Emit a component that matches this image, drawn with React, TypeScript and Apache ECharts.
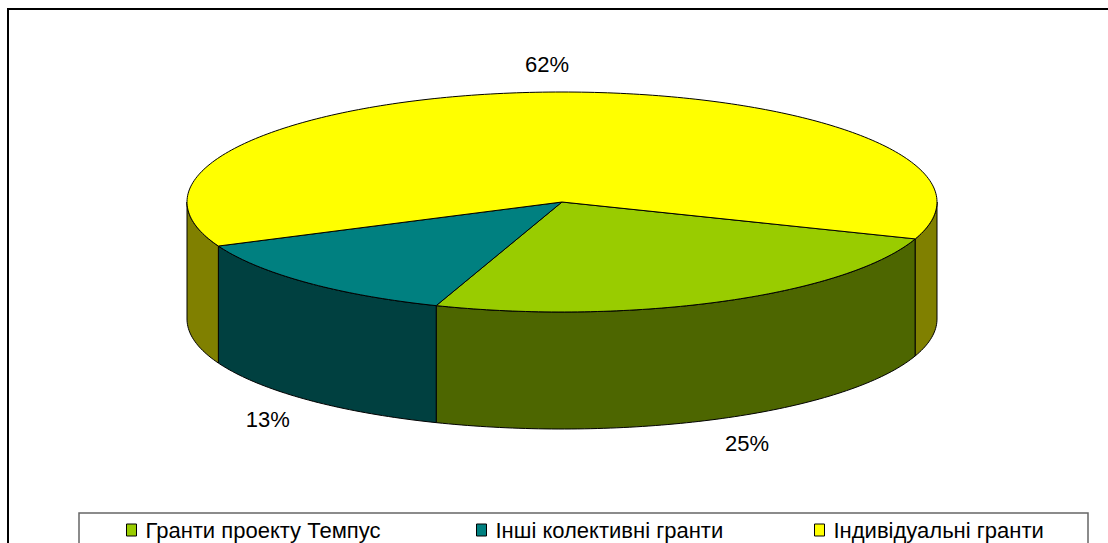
import React, { useEffect, useRef } from "react";
import * as echarts from "echarts";

// ---- data ----
const categories: string[] = ["Гранти проекту Темпус", "Інші колективні гранти", "Індивідуальні гранти"];
const values: number[] = [25, 13, 62];

// ---- styles / layout ----
const topColors = ["#99CC00", "#008080", "#FFFF00"];
const sideColors = ["#4D6600", "#004040", "#808000"];
const legendLefts = [126, 476, 814];
const FONT = "'Liberation Sans', Arial, sans-serif";

const CX = 562;
const CY = 202;
const RX = 375;
const RY = 110;
const DEPTH = 117;
const START_ANGLE = 19.6; // screen degrees, clockwise from 3 o'clock

function ellipsePoint(deg: number, dy: number): number[] {
  const r = (deg * Math.PI) / 180;
  return [CX + RX * Math.cos(r), CY + RY * Math.sin(r) + dy];
}

function arcPoints(from: number, to: number, dy: number): number[][] {
  const n = Math.max(2, Math.ceil(Math.abs(to - from) / 1));
  const pts: number[][] = [];
  for (let i = 0; i <= n; i++) {
    pts.push(ellipsePoint(from + ((to - from) * i) / n, dy));
  }
  return pts;
}

function makeRenderItem(idx: number) {
  return (params: any, api: any) => {
    const total = values.reduce((a, b) => a + b, 0);
    let acc = 0;
    for (let i = 0; i < idx; i++) acc += values[i];
    const v = api.value(0);
    const a1 = START_ANGLE + (acc / total) * 360;
    const a2 = a1 + (v / total) * 360;
    const children: any[] = [];
    // visible outer walls (front half)
    const ranges = [
      [0, 180],
      [360, 540],
    ];
    for (const [lo, hi] of ranges) {
      const s = Math.max(a1, lo);
      const e = Math.min(a2, hi);
      if (e > s) {
        const top = arcPoints(s, e, 0);
        const bot = arcPoints(s, e, DEPTH).reverse();
        children.push({
          type: "polygon",
          shape: { points: top.concat(bot) },
          style: { fill: sideColors[idx], stroke: "#000", lineWidth: 1 },
        });
      }
    }
    // top face
    children.push({
      type: "polygon",
      shape: { points: [[CX, CY]].concat(arcPoints(a1, a2, 0)) },
      style: { fill: topColors[idx], stroke: "#000", lineWidth: 1 },
    });
    // label
    const m = (((a1 + a2) / 2) * Math.PI) / 180;
    const sn = Math.sin(m);
    const lx = CX + RX * 1.15 * Math.cos(m);
    const ly = CY + RY * 1.25 * sn + (sn > 0 ? DEPTH : 0);
    children.push({
      type: "text",
      x: lx,
      y: ly,
      style: {
        text: Math.round((v / total) * 100) + "%",
        fill: "#000",
        fontSize: 22,
        fontFamily: FONT,
        align: "center",
        verticalAlign: "middle",
      },
    });
    return { type: "group", children };
  };
}

export default function App() {
  const ref = useRef<HTMLDivElement>(null);
  useEffect(() => {
    if (!ref.current) return;
    const chart = echarts.init(ref.current, undefined, { renderer: "svg" });
    const option: any = {
      animation: false,
      backgroundColor: "#fff",
      color: topColors,
      graphic: [
        {
          type: "rect",
          z: 0,
          shape: { x: 8, y: 9, width: 1400, height: 800 },
          style: { fill: "#fff", stroke: "#000", lineWidth: 2 },
        },
        {
          type: "rect",
          z: 1,
          shape: { x: 79, y: 513, width: 1009, height: 100 },
          style: { fill: "#fff", stroke: "#666", lineWidth: 1.5 },
        },
      ],
      legend: categories.map((c, i) => ({
        data: [c],
        left: legendLefts[i],
        top: 519,
        padding: 0,
        itemWidth: 10,
        itemHeight: 12,
        icon: "rect",
        selectedMode: false,
        itemStyle: { borderColor: "#000", borderWidth: 1 },
        textStyle: { fontSize: 22, fontFamily: FONT, color: "#000", padding: [0, 0, 0, 4] },
      })),
      series: categories.map((c, i) => ({
        type: "custom",
        name: c,
        coordinateSystem: "none",
        itemStyle: { color: topColors[i] },
        renderItem: makeRenderItem(i),
        data: [[values[i]]],
        z: 5,
      })),
    };
    chart.setOption(option);
    return () => chart.dispose();
  }, []);
  return (
    <div
      ref={ref}
      style={{ position: "fixed", left: 0, top: 0, width: 1108, height: 543, background: "#fff" }}
    />
  );
}
